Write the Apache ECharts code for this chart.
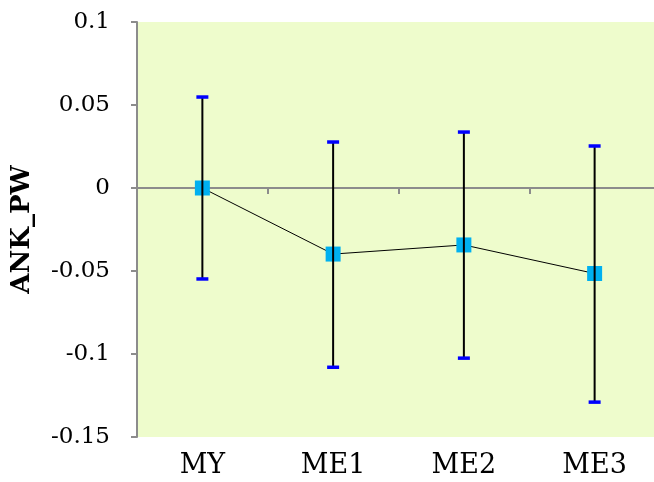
<!DOCTYPE html>
<html><head><meta charset="utf-8">
<script src="https://cdn.jsdelivr.net/npm/echarts@6/dist/echarts.min.js"></script>
<style>html,body{margin:0;padding:0;background:#fff;overflow:hidden}#c{width:670px;height:482px}</style>
</head><body><div id="c"></div>
<script>
const categories = ['MY', 'ME1', 'ME2', 'ME3'];
const means = [0, -0.0398, -0.0343, -0.0515];
const errHigh = [0.0548, 0.0277, 0.0337, 0.0253];
const errLow = [-0.0548, -0.1080, -0.1025, -0.1290];
const yTicks = { min: -0.15, max: 0.1, interval: 0.05 };
const yName = 'ANK_PW';

const errData = categories.map((c, i) => [i, errLow[i], errHigh[i]]);
const chart = echarts.init(document.getElementById('c'), null, { renderer: 'canvas' });
const serif = 'DejaVu Serif';
chart.setOption({
  animation: false,
  grid: { left: 137, top: 22, width: 523, height: 415, show: true, backgroundColor: '#eefccc', borderWidth: 0 },
  xAxis: [
    { type: 'category', data: categories, position: 'bottom',
      axisLine: { show: false, onZero: false }, axisTick: { show: false },
      axisLabel: { fontFamily: serif, fontSize: 27, color: '#000', margin: 15 } },
    { type: 'category', data: categories, position: 'top',
      axisLine: { show: true, onZero: true, lineStyle: { color: '#8c8c8c', width: 2 } },
      axisTick: { show: true, inside: true, length: 6, lineStyle: { color: '#8c8c8c', width: 2 } },
      axisLabel: { show: false } }
  ],
  yAxis: {
    type: 'value', min: yTicks.min, max: yTicks.max, interval: yTicks.interval,
    name: yName, nameLocation: 'middle', nameGap: 102,
    nameTextStyle: { fontFamily: serif, fontWeight: 'bold', fontSize: 26, color: '#000' },
    axisLine: { show: true, lineStyle: { color: '#8c8c8c', width: 2 } },
    axisTick: { show: true, length: 6, lineStyle: { color: '#8c8c8c', width: 2 } },
    splitLine: { show: false },
    axisLabel: { fontFamily: serif, fontSize: 23, color: '#000', margin: 27,
      formatter: v => String(+v.toFixed(2)) }
  },
  series: [
    { type: 'line', xAxisIndex: 0, data: means, symbol: 'rect', symbolSize: 15,
      itemStyle: { color: '#00b0f0' }, lineStyle: { color: '#000', width: 1 }, z: 3 },
    { type: 'custom', xAxisIndex: 0, data: errData, z: 5,
      renderItem: (params, api) => {
        const x = api.value(0);
        const lo = api.coord([x, api.value(1)]);
        const hi = api.coord([x, api.value(2)]);
        const hw = 6;
        return { type: 'group', children: [
          { type: 'line', shape: { x1: lo[0], y1: lo[1], x2: hi[0], y2: hi[1] }, style: { stroke: '#000', lineWidth: 2 } },
          { type: 'line', shape: { x1: hi[0] - hw, y1: hi[1], x2: hi[0] + hw, y2: hi[1] }, style: { stroke: '#0000ff', lineWidth: 3.5 } },
          { type: 'line', shape: { x1: lo[0] - hw, y1: lo[1], x2: lo[0] + hw, y2: lo[1] }, style: { stroke: '#0000ff', lineWidth: 3.5 } }
        ]};
      } }
  ]
});
</script></body></html>
